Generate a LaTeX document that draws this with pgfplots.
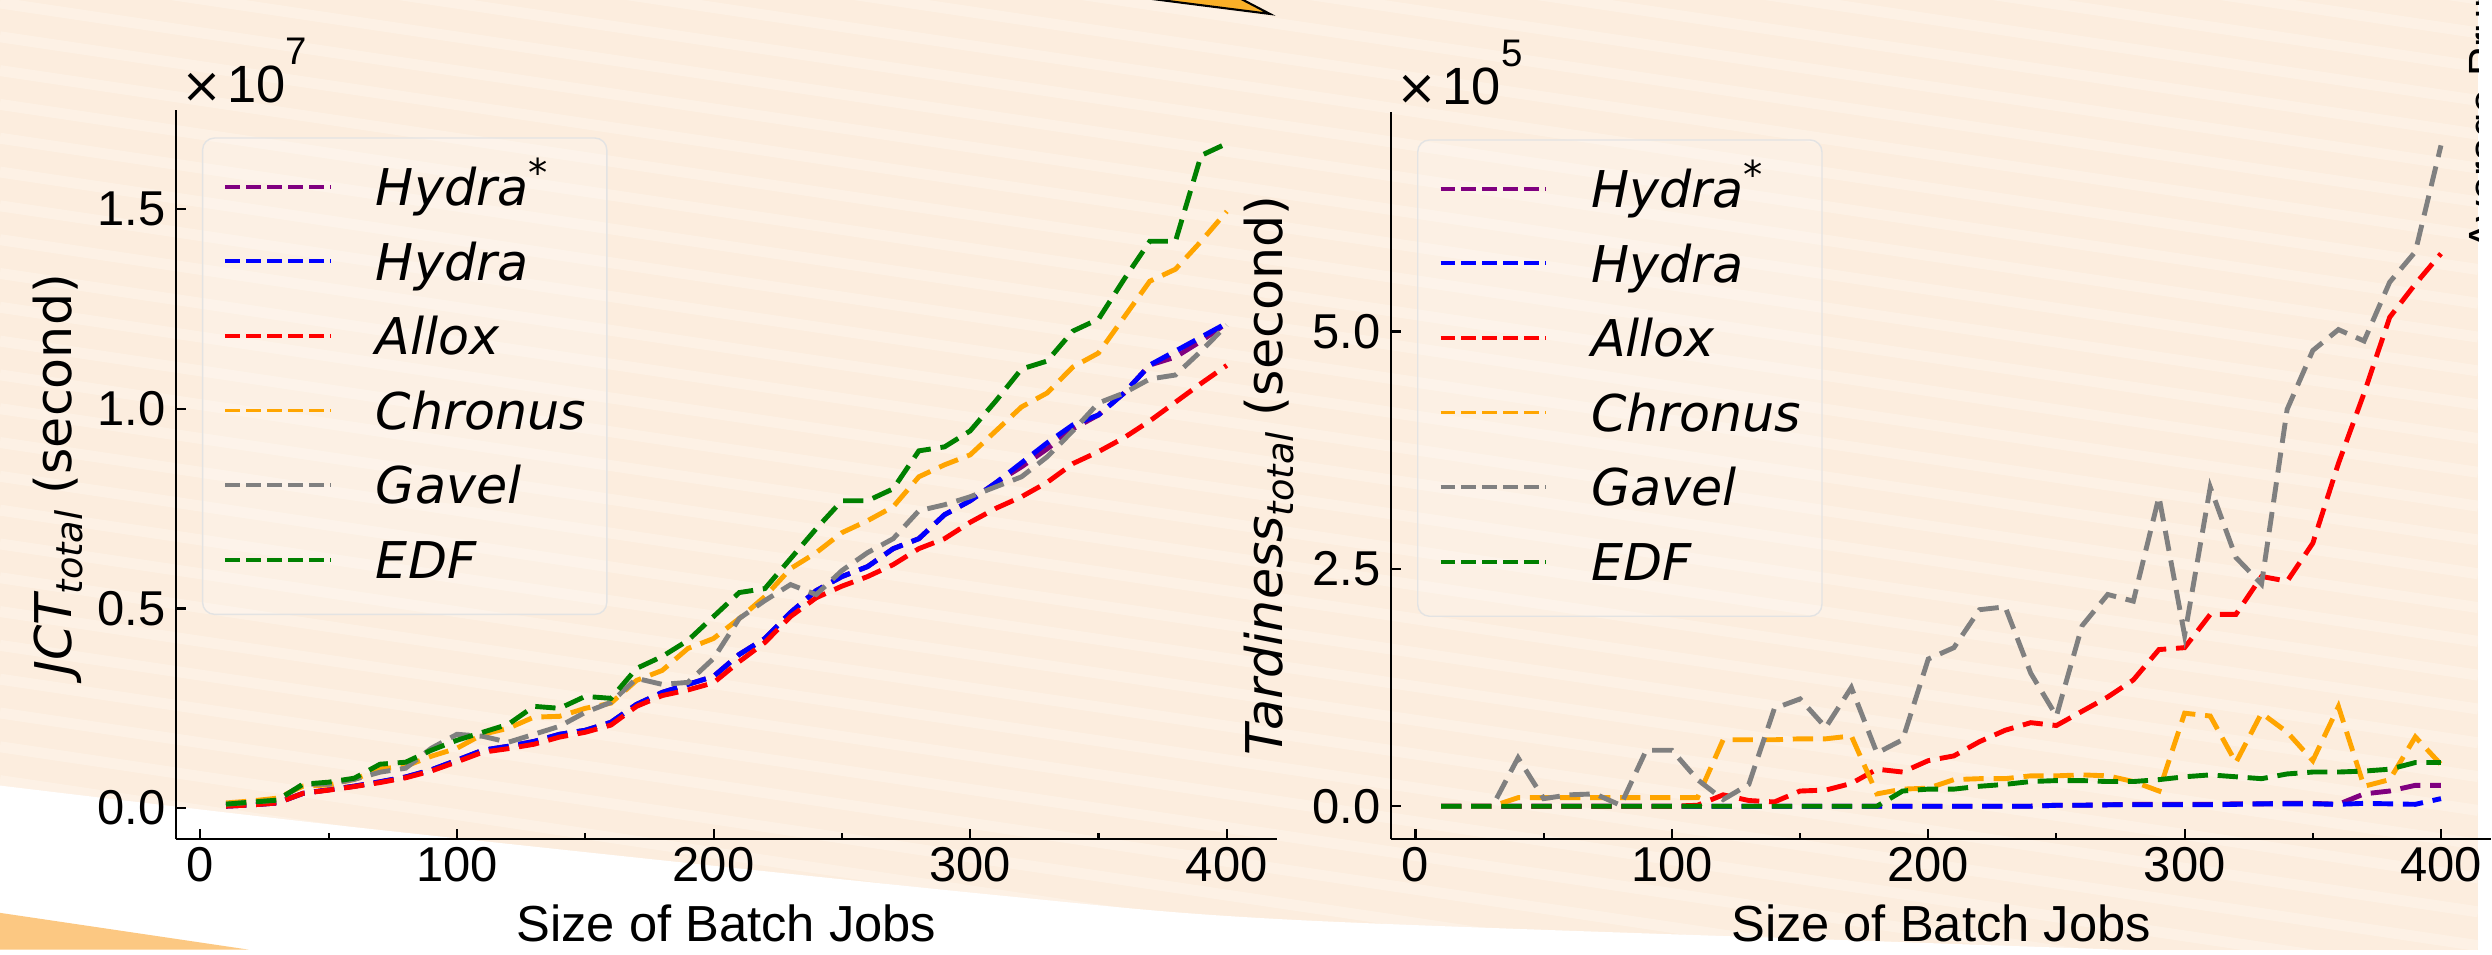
\documentclass[border=0pt]{standalone}
\usepackage{pgfplots}
\pgfplotsset{compat=1.18}
\usepackage{pgfplotstable}
\usepackage{fontspec}
\setmainfont{Liberation Sans}
\newfontfamily\dejavu{DejaVu Sans}
\definecolor{bgpeach}{RGB}{252,237,222}
\definecolor{stripec}{RGB}{254,246,236}
\definecolor{mplpurple}{RGB}{128,0,128}
\definecolor{mplblue}{RGB}{0,0,255}
\definecolor{mplred}{RGB}{255,0,0}
\definecolor{mplorange}{RGB}{255,165,0}
\definecolor{mplgray}{RGB}{128,128,128}
\definecolor{mplgreen}{RGB}{0,128,0}
\definecolor{lightorange}{RGB}{252,200,130}
\definecolor{arroworange}{RGB}{250,176,40}

\pgfplotstableread{
x hs h al ch ga ed
10 0.005 0.005 0.005 0.013 0.010 0.010
20 0.008 0.008 0.008 0.018 0.015 0.015
30 0.013 0.013 0.013 0.025 0.020 0.020
40 0.037 0.037 0.037 0.055 0.060 0.060
50 0.046 0.046 0.045 0.058 0.060 0.065
60 0.055 0.055 0.054 0.072 0.072 0.075
70 0.066 0.066 0.064 0.098 0.090 0.110
80 0.078 0.078 0.076 0.105 0.100 0.115
90 0.096 0.096 0.093 0.130 0.150 0.145
100 0.120 0.120 0.116 0.150 0.185 0.170
110 0.145 0.145 0.140 0.185 0.180 0.190
120 0.155 0.155 0.149 0.200 0.165 0.210
130 0.167 0.167 0.160 0.228 0.185 0.255
140 0.185 0.185 0.178 0.230 0.205 0.250
150 0.195 0.195 0.190 0.250 0.240 0.280
160 0.215 0.215 0.208 0.263 0.265 0.275
170 0.260 0.260 0.255 0.320 0.325 0.350
180 0.290 0.290 0.282 0.345 0.310 0.380
190 0.310 0.310 0.296 0.400 0.315 0.420
200 0.330 0.330 0.314 0.425 0.375 0.480
210 0.385 0.385 0.367 0.475 0.475 0.540
220 0.425 0.425 0.415 0.530 0.520 0.550
230 0.490 0.490 0.480 0.600 0.560 0.625
240 0.545 0.545 0.527 0.640 0.535 0.700
250 0.580 0.580 0.556 0.690 0.595 0.770
260 0.605 0.605 0.580 0.720 0.640 0.770
270 0.650 0.650 0.610 0.755 0.675 0.800
280 0.675 0.675 0.650 0.830 0.745 0.895
290 0.735 0.735 0.675 0.860 0.760 0.905
300 0.770 0.770 0.716 0.885 0.780 0.945
310 0.815 0.815 0.751 0.945 0.805 1.020
320 0.855 0.865 0.780 1.005 0.830 1.100
330 0.900 0.915 0.816 1.040 0.880 1.120
340 0.950 0.960 0.863 1.105 0.945 1.195
350 0.985 0.985 0.893 1.140 1.015 1.225
360 1.040 1.040 0.928 1.230 1.040 1.325
370 1.110 1.110 0.970 1.320 1.075 1.420
380 1.130 1.145 1.017 1.350 1.085 1.420
390 1.170 1.180 1.064 1.420 1.145 1.635
400 1.215 1.215 1.109 1.495 1.210 1.665
}\jct

\pgfplotstableread{
x hs h al ch ga ed
10 0 0 0 0 0 0
20 0 0 0 0 0 0
30 0 0 0 0.00 0 0
40 0 0 0 0.09 0.51 0
50 0 0 0 0.09 0.08 0
60 0 0 0 0.09 0.12 0
70 0 0 0 0.09 0.13 0
80 0 0 0 0.09 0.01 0
90 0 0 0 0.09 0.59 0
100 0 0 0 0.09 0.59 0
110 0 0 0.01 0.09 0.28 0
120 0 0 0.12 0.70 0.07 0
130 0 0 0.06 0.70 0.23 0
140 0 0 0.045 0.70 1.03 0
150 0 0 0.16 0.71 1.13 0
160 0 0 0.17 0.71 0.83 0
170 0 0 0.24 0.74 1.25 0
180 0 0 0.39 0.13 0.56 0
190 0 0 0.36 0.18 0.70 0.16
200 0 0 0.48 0.19 1.55 0.18
210 0 0 0.53 0.28 1.67 0.18
220 0 0 0.68 0.29 2.07 0.21
230 0 0 0.80 0.29 2.10 0.23
240 0 0 0.88 0.32 1.40 0.26
250 0.01 0.01 0.85 0.32 0.95 0.27
260 0.01 0.01 1.00 0.33 1.90 0.27
270 0.015 0.015 1.15 0.32 2.23 0.26
280 0.02 0.015 1.33 0.26 2.16 0.26
290 0.02 0.015 1.65 0.16 3.26 0.28
300 0.02 0.015 1.67 0.98 1.80 0.31
310 0.02 0.015 2.02 0.95 3.36 0.33
320 0.025 0.02 2.02 0.46 2.62 0.31
330 0.025 0.025 2.42 0.98 2.34 0.29
340 0.03 0.025 2.37 0.78 4.18 0.34
350 0.03 0.025 2.77 0.48 4.80 0.36
360 0.02 0.02 3.61 1.05 5.02 0.36
370 0.13 0.03 4.35 0.21 4.90 0.37
380 0.16 0.025 5.15 0.28 5.52 0.39
390 0.22 0.02 5.50 0.73 5.84 0.46
400 0.22 0.08 5.82 0.44 6.96 0.46
}\tard

\pgfplotsset{
  mystyle/.style={
    scale only axis,
    axis lines*=left,
    xmin=-9.5, xmax=419.5,
    xtick={0,100,200,300,400},
    minor xtick={50,150,250,350},
    tick align=inside,
    major tick length=1mm,
    minor tick length=0.6mm,
    tick style={black, line width=0.6pt},
    axis line style={black, line width=0.6pt},
    ticklabel style={font=\fontsize{14}{16}\selectfont},
    /pgf/number format/assume math mode=true,
    xticklabel style={inner sep=2pt},
    yticklabel style={inner sep=2.8pt},
    every axis x label/.style={at={(axis description cs:0.5,-0.116)}, anchor=center, font=\fontsize{14.5}{17}\selectfont},
    xlabel={Size of Batch Jobs},
    clip mode=individual,
    legend cell align=left,
    legend style={
      at={(axis description cs:0.0235,0.963)}, anchor=north west,
      draw=black!11, rounded corners=1.2mm,
      fill=white, fill opacity=0.2, text opacity=1, draw opacity=1,
      font={\dejavu\itshape\fontsize{14.5}{17}\selectfont},
      inner xsep=2.1mm, inner ysep=2.7mm,
      row sep=2.5mm, column sep=0mm,
      nodes={inner xsep=0pt, inner ysep=0pt, text height=4.1mm, text depth=0.9mm, anchor=base west},
    },
    legend image code/.code={
      \draw[##1, line width=1.1pt, dash pattern=on 4.2pt off 1.8pt] (0mm,1.9mm) -- (10.6mm,1.9mm);
      \path (14.9mm,1.9mm);
    },
    every axis plot/.append style={line width=1.4pt, dash pattern=on 5.8pt off 2.8pt},
  }
}

\newcommand{\tenpow}[1]{{\dejavu\fontsize{14}{16}\selectfont ×}\kern0.5mm{\fontsize{15}{17}\selectfont 10}\raisebox{3.8mm}{\fontsize{11}{12}\selectfont #1}}
\newcommand{\hstar}{Hydra\raisebox{1.9mm}{\fontsize{11}{12}\selectfont\upshape *}}

\begin{document}
\begin{tikzpicture}
\begin{scope}[x=1mm,y=1mm]
\clip (0,0) rectangle (249.2,95.5);
\fill[bgpeach] (0,0) rectangle (249.2,95.5);
\foreach \k in {-12,...,40} {
  \draw[stripec, opacity=0.55, line width=1.1mm] (0,\k*3.4) -- (249.2,\k*3.4-37);
}
\fill[white] plot[smooth] coordinates {(0,16.5) (36.7,12.2) (100,5.5) (130,3.0) (190,0.8) (222,-0.3)} -- (0,-1) -- cycle;
\fill[lightorange] (0,3.7) -- (25,0) -- (0,0) -- cycle;
\filldraw[fill=arroworange, draw=black, line width=0.6pt, line join=miter] (108.8,96.5) -- (127.7,94.1) -- (123.1,96.5) -- cycle;
\node[rotate=90, anchor=north west, inner sep=0pt, font=\fontsize{12.5}{14}\selectfont] at (248.1,70.2) {Average Pruning};
\end{scope}

\begin{axis}[mystyle,
  at={(17.7mm,11.1mm)}, anchor=south west,
  width=110.7mm, height=73.3mm,
  ymin=-0.078, ymax=1.748,
  ytick={0,0.5,1.0,1.5}, yticklabels={0.0,0.5,1.0,1.5},
  every axis y label/.style={at={(axis description cs:-0.1075,0.5)}, anchor=center, rotate=90, font=\dejavu\fontsize{14.5}{17}\selectfont},
  ylabel={{\itshape JCT\raisebox{-1.1mm}{\fontsize{10.5}{12}\selectfont total}}\ (second)},
]
\addplot[mplpurple] table[x=x,y=hs]{\jct};
\addplot[mplblue] table[x=x,y=h]{\jct};
\addplot[mplred] table[x=x,y=al]{\jct};
\addplot[mplorange] table[x=x,y=ch]{\jct};
\addplot[mplgray] table[x=x,y=ga]{\jct};
\addplot[mplgreen] table[x=x,y=ed]{\jct};
\legend{\hstar,Hydra,Allox,Chronus,Gavel,EDF}
\node[anchor=base west, inner sep=0pt, xshift=0.5mm, yshift=0.8mm] at (axis description cs:0,1) {\tenpow{7}};
\end{axis}

\begin{axis}[mystyle,
  at={(139.9mm,11.1mm)}, anchor=south west,
  width=110.6mm, height=73.1mm,
  ymin=-0.348, ymax=7.308,
  ytick={0,2.5,5.0}, yticklabels={0.0,2.5,5.0},
  every axis y label/.style={at={(axis description cs:-0.111,0.5)}, anchor=center, rotate=90, font=\dejavu\fontsize{14.5}{17}\selectfont},
  ylabel={{\itshape Tardiness\raisebox{-1.1mm}{\fontsize{10.5}{12}\selectfont total}}\ (second)},
]
\addplot[mplpurple] table[x=x,y=hs]{\tard};
\addplot[mplblue] table[x=x,y=h]{\tard};
\addplot[mplred] table[x=x,y=al]{\tard};
\addplot[mplorange] table[x=x,y=ch]{\tard};
\addplot[mplgray] table[x=x,y=ga]{\tard};
\addplot[mplgreen] table[x=x,y=ed]{\tard};
\legend{\hstar,Hydra,Allox,Chronus,Gavel,EDF}
\node[anchor=base west, inner sep=0pt, xshift=0.5mm, yshift=0.8mm] at (axis description cs:0,1) {\tenpow{5}};
\end{axis}
\end{tikzpicture}
\end{document}
